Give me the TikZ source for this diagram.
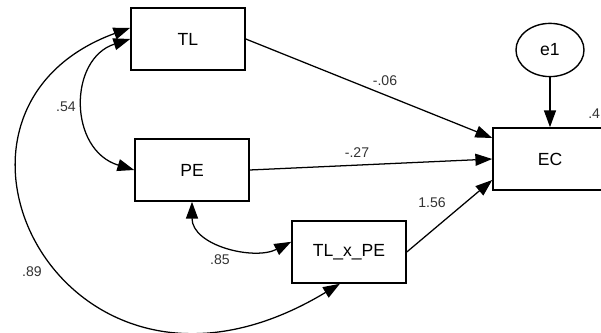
\documentclass[tikz,border=0pt]{standalone}
\usepackage{fontspec}
\setmainfont{Liberation Sans}
\usetikzlibrary{shapes.geometric,arrows.meta}
\tikzset{
    every node/.style={inner sep=0mm},
    var/.style={rectangle, draw, line width=1.1pt, minimum width=2.85cm, minimum height=1.55cm, font=\fontsize{12.5}{14}\selectfont},
    err/.style={ellipse, draw, line width=1pt, minimum width=1.7cm, minimum height=1.33cm, font=\fontsize{12.5}{14}\selectfont},
    coef/.style={font=\fontsize{10}{12}\selectfont, text=black!80},
    regr/.style={line width=0.9pt, -{Triangle[length=4.2mm,width=3mm]}},
    cov/.style={line width=0.9pt, {Triangle[length=4.2mm,width=3mm]}-{Triangle[length=4.2mm,width=3mm]}}
}

\begin{document}
\begin{tikzpicture}[x=0.025cm, y=-0.025cm]
    \useasboundingbox (0,0) rectangle (601,333);
    \clip (0,0) rectangle (601,333);

    \node (TL) [var] at (188, 39) {TL};
    \node (PE) [var] at (192, 170) {PE};
    \node (TLxPE) [var] at (349, 252) {TL\_x\_PE};
    \node (EC) [var] at (550, 159) {EC};
    \node (e1) [err] at (550, 50) {e1};

    % regression paths
    \draw[regr] (TL.east) -- (EC.160);
    \draw[regr] (PE.east) -- (EC.west);
    \draw[regr] (TLxPE.east) -- (EC.200);
    \draw[regr] (e1.south) -- (EC.north);

    % covariances
    \draw[cov] (TL.west) .. controls +(-62,20) and +(-66,-20) .. (PE.west);
    \draw[cov] (TL.169) .. controls +(-232,85) and +(-275,166) .. (TLxPE.254);
    \draw[cov] (PE.south) .. controls +(0,44) and +(-37,19) .. (TLxPE.170);

    \node (b1) [coef] at (385, 81) {-.06};
    \node (b2) [coef] at (357, 153) {-.27};
    \node (b3) [coef] at (432, 203) {1.56};
    \node (r54) [coef] at (66, 107) {.54};
    \node (r89) [coef] at (32, 272) {.89};
    \node (r85) [coef] at (220, 260) {.85};
    \node (r2) [coef, anchor=west] at (588, 114) {.4};
\end{tikzpicture}
\end{document}
